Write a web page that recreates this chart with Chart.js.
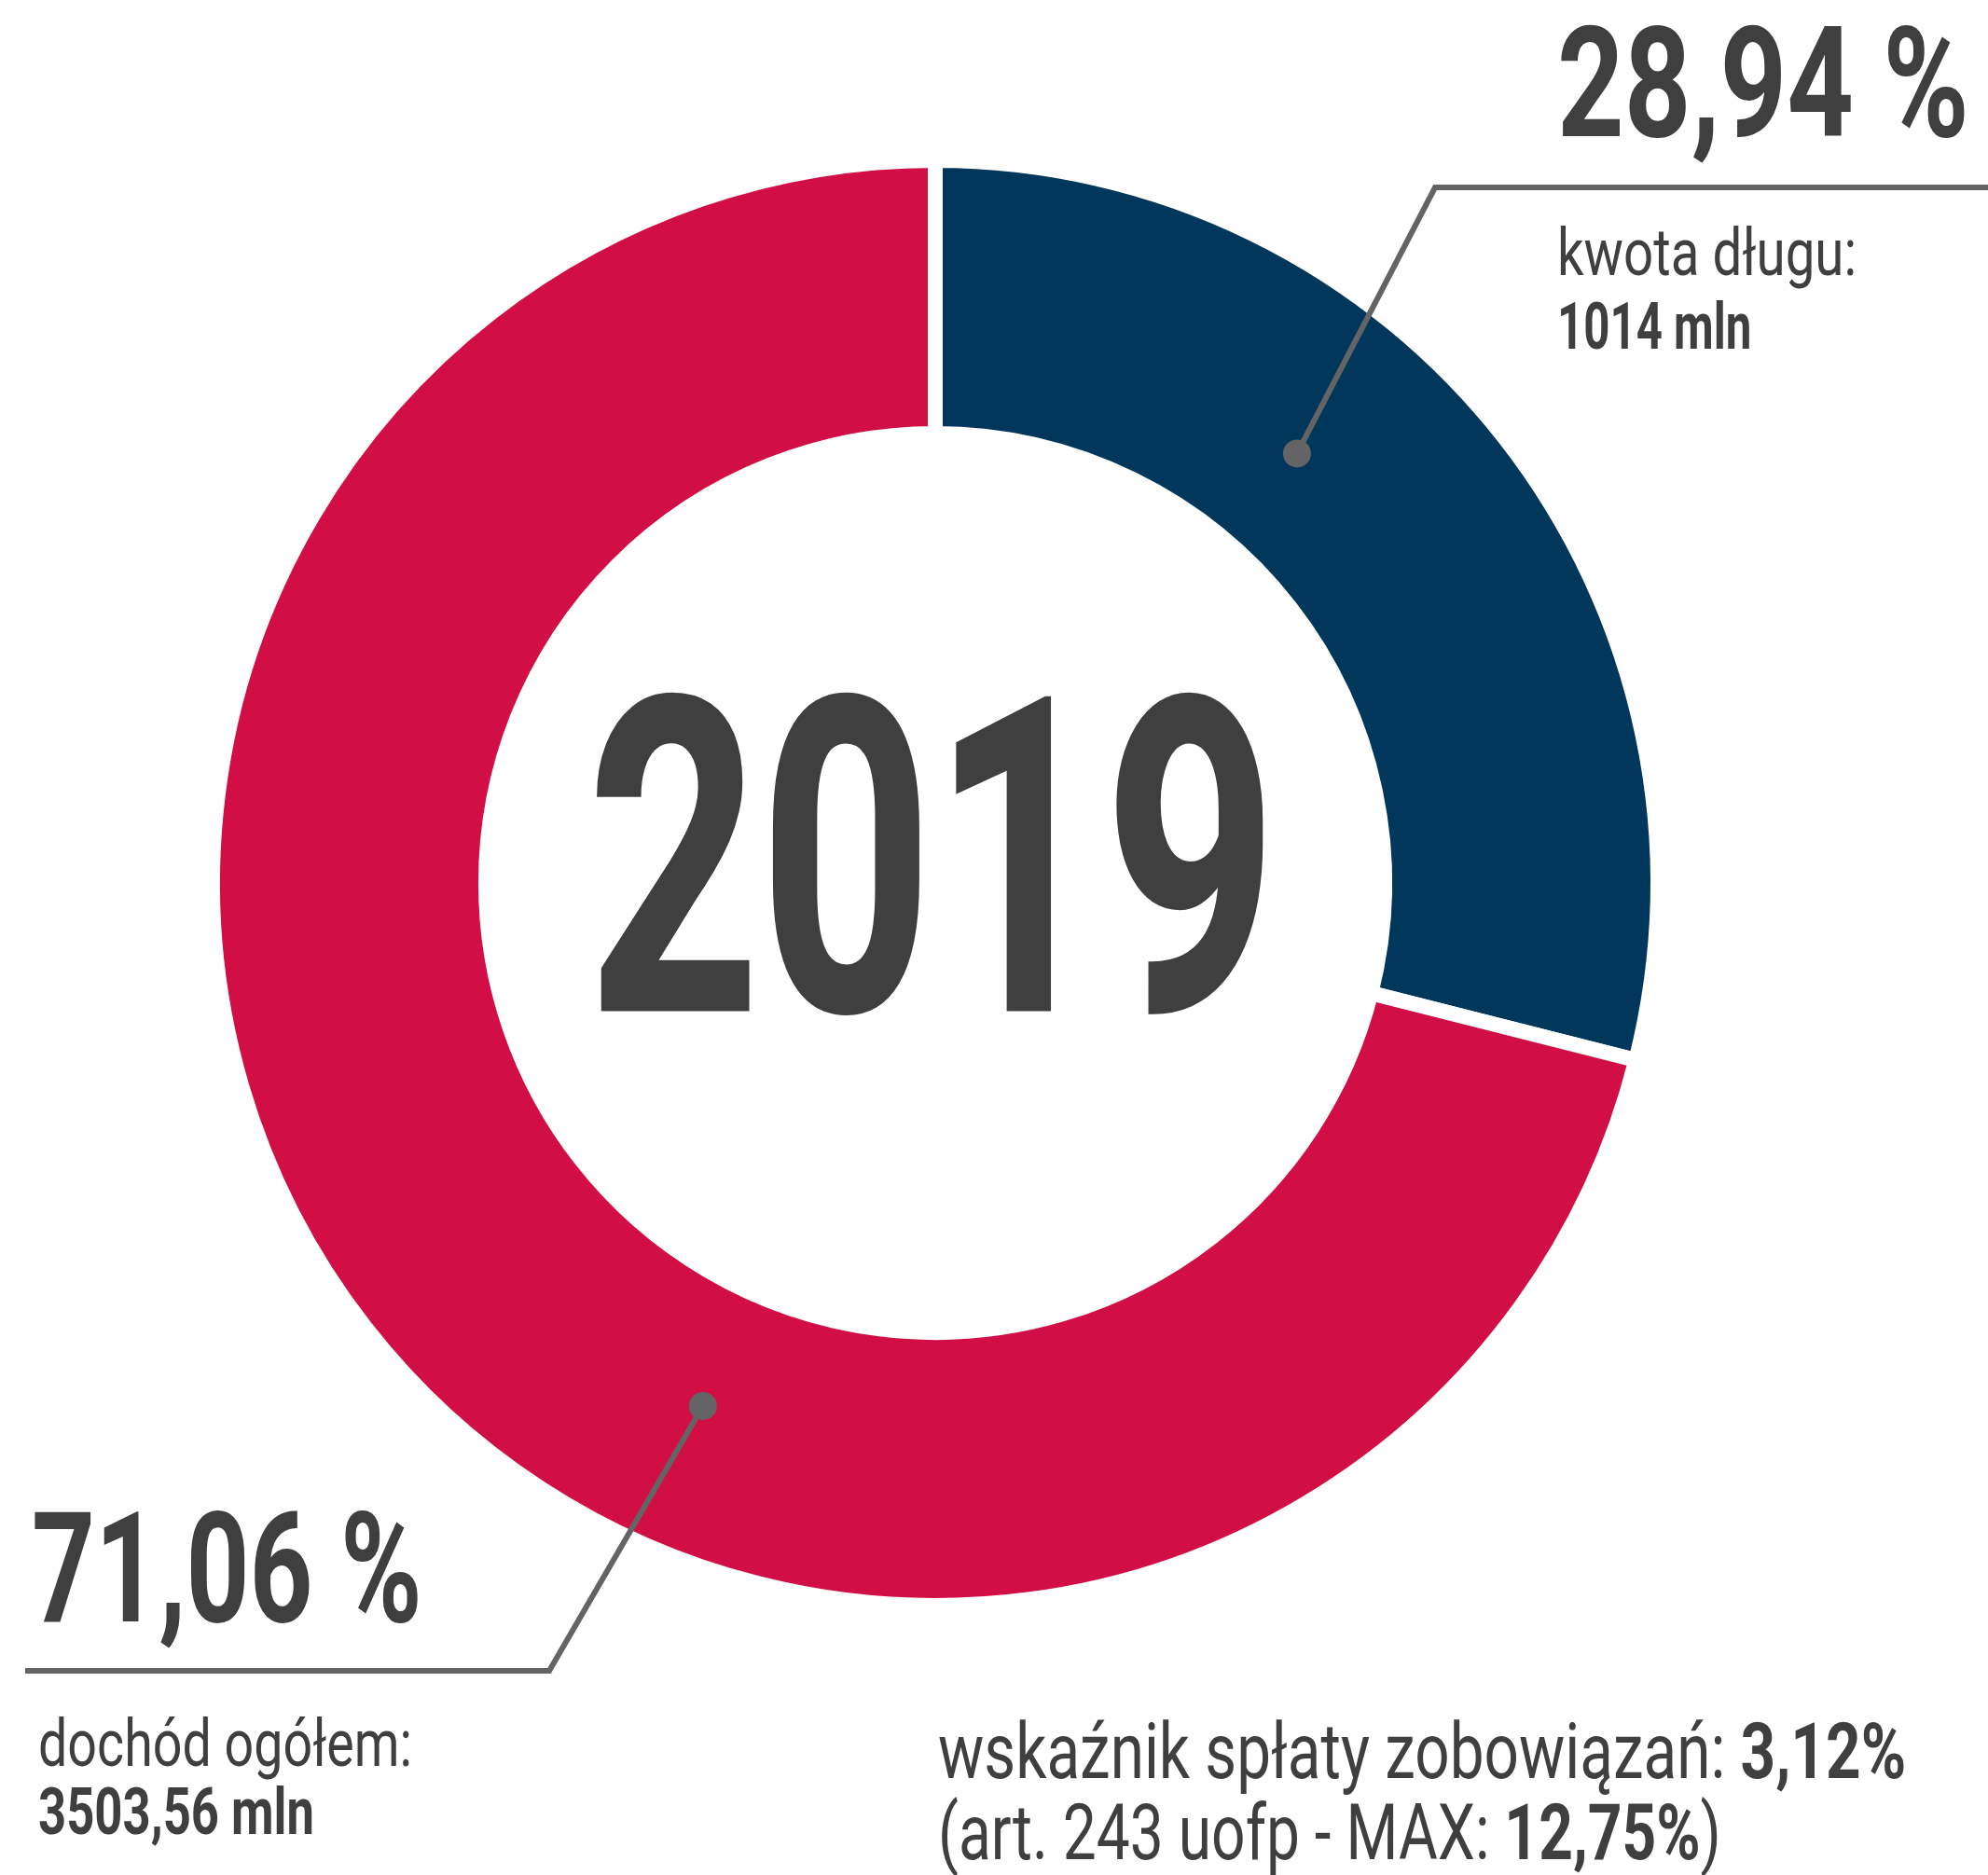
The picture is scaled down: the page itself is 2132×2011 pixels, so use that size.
<!DOCTYPE html>
<html>
<head>
<meta charset="utf-8">
<script src="https://cdn.jsdelivr.net/npm/chart.js@4.4.1/dist/chart.umd.min.js"></script>
<style>
  html, body { margin: 0; padding: 0; background: #fff; }
  #wrap { position: relative; width: 2132px; height: 2011px; overflow: hidden; }
  #pie { position: absolute; left: 0; top: 0; }
  .txt {
    position: absolute; white-space: nowrap; line-height: 1;
    font-family: Roboto, "Liberation Sans", sans-serif; color: #3f3f3f;
    transform-origin: 0 0; display: inline-block;
  }
  .b { font-weight: 700; }
</style>
</head>
<body>
<div id="wrap">
  <canvas id="pie" width="2132" height="2011"></canvas>
</div>
<script>
// data
const categories = ["kwota długu", "dochód ogółem"];
const shares = [28.94, 71.06];
const amounts = ["1014 mln", "3503,56 mln"];
const year = "2019";
const repayRatio = "3,12%";
const repayMax = "12,75%";

const colors = ["#00375B", "#D20F45"];
const lineColor = "#646466";

// callout layout (where the leader lines bend and where the texts sit)
const callouts = [
  {
    along: 0.385, depth: 0.41, bend: [1539, 201], end: [2132, 201],
    big: { left: 1670, base: 147, width: 442 },
    desc: { left: 1670, base: 295, width: 321 },
    amount: { left: 1670, base: 374, width: 208 },
  },
  {
    along: 0.39, depth: 0.45, bend: [589, 1792], end: [27, 1792],
    big: { left: 34, base: 1740, width: 419 },
    desc: { left: 41, base: 1894, width: 401 },
    amount: { left: 41, base: 1967, width: 296 },
  },
];

function pct(v) {
  return v.toFixed(2).replace(".", ",") + " %";
}

// text helper: put text with its baseline at base, squeezed to width
const wrap = document.getElementById("wrap");
function addText(html, cls, size, pos) {
  let el = document.createElement("div");
  el.className = "txt " + cls;
  el.innerHTML = html;
  el.style.fontSize = size + "px";
  el.style.left = pos.left + "px";
  el.style.top = (pos.base - 0.842 * size) + "px";
  wrap.appendChild(el);
  let w = el.offsetWidth;
  el.style.transform = "scaleX(" + (pos.width / w) + ")";
  return el;
}

callouts.forEach((c, i) => {
  addText(pct(shares[i]), "b", 166, c.big);
  addText(categories[i] + ":", "", 70, c.desc);
  addText(amounts[i], "b", 70, c.amount);
});

let yr = addText(year, "b", 470, { left: 630, base: 1084, width: 740 });
yr.style.webkitTextStroke = "3px #3f3f3f";

addText('wskaźnik spłaty zobowiązań: <span class="b">' + repayRatio + "</span>", "", 84,
  { left: 1006, base: 1908, width: 1038 });
addText('(art. 243 uofp - MAX: <span class="b">' + repayMax + "</span>)", "", 84,
  { left: 1006, base: 1995, width: 840 });

// leader lines with a dot on the ring
const leaderLines = {
  id: "leaderLines",
  afterDraw(chart) {
    const ctx = chart.ctx;
    const arcs = chart.getDatasetMeta(0).data;
    ctx.save();
    ctx.strokeStyle = lineColor;
    ctx.fillStyle = lineColor;
    ctx.lineWidth = 6;
    ctx.lineJoin = "miter";
    callouts.forEach((c, i) => {
      const a = arcs[i];
      const ang = a.startAngle + c.along * (a.endAngle - a.startAngle);
      const r = a.innerRadius + c.depth * (a.outerRadius - a.innerRadius);
      const px = a.x + Math.cos(ang) * r;
      const py = a.y + Math.sin(ang) * r;
      ctx.beginPath();
      ctx.moveTo(px, py);
      ctx.lineTo(c.bend[0], c.bend[1]);
      ctx.lineTo(c.end[0], c.end[1]);
      ctx.stroke();
      ctx.beginPath();
      ctx.arc(px, py, 15, 0, Math.PI * 2);
      ctx.fill();
    });
    ctx.restore();
  },
};

let pieCtx = document.getElementById("pie").getContext("2d");
let pieChart = new Chart(pieCtx, {
  type: "doughnut",
  data: {
    labels: categories,
    datasets: [
      {
        data: shares,
        backgroundColor: colors,
        borderColor: "#ffffff",
        borderWidth: 16,
        borderJoinStyle: "miter",
      },
    ],
  },
  options: {
    responsive: false,
    animation: false,
    radius: 775,
    cutout: "62.2%",
    rotation: 0,
    layout: { padding: { left: 0, top: 0, right: 126, bottom: 117 } },
    plugins: {
      legend: { display: false },
      tooltip: { enabled: false },
    },
  },
  plugins: [leaderLines],
});
</script>
</body>
</html>
